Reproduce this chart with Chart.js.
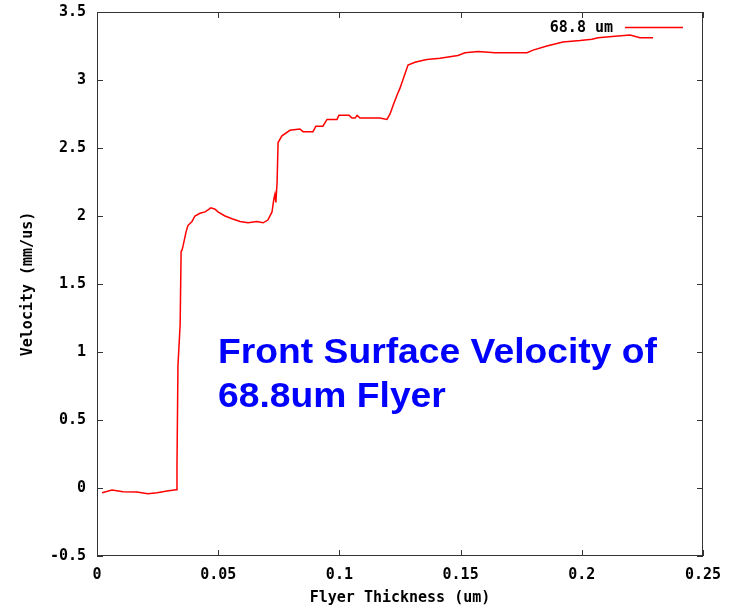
<!DOCTYPE html>
<html>
<head>
<meta charset="utf-8">
<script src="https://cdn.jsdelivr.net/npm/chart.js@4.4.1/dist/chart.umd.min.js"></script>
<style>
  html, body { margin: 0; padding: 0; background: #ffffff; }
  #wrap { width: 735px; height: 605px; }
</style>
</head>
<body>
<div id="wrap"><canvas id="c" width="735" height="605"></canvas></div>
<script>
// ---- data ----
const seriesLabel = "68.8 um";
const xValues = [0.0021, 0.0062, 0.0107, 0.0165, 0.0210, 0.0248, 0.0289, 0.0326, 0.0330, 0.0334, 0.0343, 0.0347,
  0.0351, 0.0355, 0.0367, 0.0375, 0.0392, 0.0404, 0.0425, 0.0446, 0.0470, 0.0487, 0.0499, 0.0528, 0.0557,
  0.0590, 0.0623, 0.0660, 0.0685, 0.0705, 0.0722, 0.0730, 0.0734, 0.0738, 0.0743, 0.0747, 0.0763, 0.0796,
  0.0837, 0.0850, 0.0891, 0.0903, 0.0932, 0.0949, 0.0990, 0.0998, 0.1040, 0.1052, 0.1065, 0.1073, 0.1085,
  0.1167, 0.1196, 0.1209, 0.1221, 0.1238, 0.1250, 0.1283, 0.1312, 0.1333, 0.1361, 0.1415, 0.1489, 0.1518,
  0.1572, 0.1642, 0.1774, 0.1799, 0.1856, 0.1922, 0.1993, 0.2042, 0.2067, 0.2125, 0.2199, 0.2240, 0.2294];
const yValues = [-0.035, -0.015, -0.028, -0.030, -0.042, -0.035, -0.022, -0.013, 0.17, 0.90, 1.20, 1.74,
  1.75, 1.78, 1.88, 1.93, 1.96, 2.00, 2.02, 2.03, 2.06, 2.05, 2.03, 2.00, 1.98,
  1.96, 1.95, 1.96, 1.95, 1.97, 2.03, 2.13, 2.16, 2.10, 2.25, 2.54, 2.59, 2.63,
  2.64, 2.62, 2.62, 2.66, 2.66, 2.71, 2.71, 2.74, 2.74, 2.72, 2.72, 2.74, 2.72,
  2.72, 2.71, 2.75, 2.81, 2.89, 2.94, 3.11, 3.13, 3.14, 3.15, 3.16, 3.18, 3.20,
  3.21, 3.20, 3.20, 3.22, 3.25, 3.28, 3.29, 3.30, 3.31, 3.32, 3.33, 3.31, 3.31];
const xTickLabels = ["0", "0.05", "0.1", "0.15", "0.2", "0.25"];
const yTickLabels = ["-0.5", "0", "0.5", "1", "1.5", "2", "2.5", "3", "3.5"];
const xTitle = "Flyer Thickness (um)";
const yTitle = "Velocity (mm/us)";
const noteLines = ["Front Surface Velocity of", "68.8um Flyer"];

const points = xValues.map((x, i) => ({ x: x, y: yValues[i] }));
const monoFont = { family: "'DejaVu Sans Mono', monospace", size: 15, weight: 'bold' };

const framePlugin = {
  id: 'frame',
  afterDatasetsDraw(chart) {
    const { ctx, chartArea: a, scales } = chart;
    ctx.save();
    ctx.strokeStyle = '#333333';
    ctx.lineWidth = 1;
    ctx.strokeRect(a.left + 0.5, a.top + 0.5, a.right - a.left - 1, a.bottom - a.top - 1);
    const tl = 6;
    ctx.beginPath();
    scales.x.ticks.forEach(t => {
      const px = Math.round(scales.x.getPixelForValue(t.value)) + 0.5;
      ctx.moveTo(px, a.bottom); ctx.lineTo(px, a.bottom - tl);
      ctx.moveTo(px, a.top); ctx.lineTo(px, a.top + tl);
    });
    scales.y.ticks.forEach(t => {
      const py = Math.round(scales.y.getPixelForValue(t.value)) + 0.5;
      ctx.moveTo(a.left, py); ctx.lineTo(a.left + tl, py);
      ctx.moveTo(a.right, py); ctx.lineTo(a.right - tl, py);
    });
    ctx.stroke();

    // legend (key) inside top right
    const ds = chart.data.datasets[0];
    ctx.font = "bold 15px 'DejaVu Sans Mono', monospace";
    ctx.fillStyle = '#000000';
    ctx.textAlign = 'right';
    ctx.textBaseline = 'middle';
    ctx.fillText(ds.label, a.right - 90, a.top + 16);
    ctx.strokeStyle = ds.borderColor;
    ctx.lineWidth = 1.5;
    ctx.beginPath();
    ctx.moveTo(a.right - 78, a.top + 15.5);
    ctx.lineTo(a.right - 20, a.top + 15.5);
    ctx.stroke();

    // annotation
    ctx.font = "bold 35px 'Liberation Sans', Arial, sans-serif";
    ctx.fillStyle = '#0000ff';
    ctx.textAlign = 'left';
    ctx.textBaseline = 'alphabetic';
    const w = ctx.measureText(noteLines[0]).width;
    const sx = 439 / w;
    ctx.translate(218, 0);
    ctx.scale(sx, 1);
    ctx.fillText(noteLines[0], 0, 363);
    ctx.fillText(noteLines[1], 0, 407);
    ctx.restore();
  }
};

new Chart(document.getElementById('c'), {
  type: 'line',
  data: {
    datasets: [{
      label: seriesLabel,
      data: points,
      borderColor: '#ff0000',
      backgroundColor: '#ff0000',
      borderWidth: 1.5,
      pointRadius: 0,
      tension: 0,
      fill: false
    }]
  },
  options: {
    responsive: false,
    animation: false,
    devicePixelRatio: 1,
    layout: { padding: { top: 7, right: 32, left: 0, bottom: 0 } },
    plugins: { legend: { display: false }, tooltip: { enabled: false } },
    scales: {
      x: {
        type: 'linear', min: 0, max: 0.25,
        afterFit(s) { s.height = 49; },
        grid: { display: false },
        border: { display: false },
        ticks: {
          stepSize: 0.05, padding: 2, color: '#000000', font: monoFont, maxRotation: 0,
          callback: (v, i) => xTickLabels[i]
        },
        title: { display: true, text: xTitle, color: '#000000', font: monoFont, padding: { top: 0, bottom: -2 } }
      },
      y: {
        type: 'linear', min: -0.5, max: 3.5,
        afterFit(s) { s.width = 97; },
        grid: { display: false },
        border: { display: false },
        ticks: {
          stepSize: 0.5, padding: 3, color: '#000000', font: monoFont,
          callback: (v, i) => yTickLabels[i]
        },
        title: { display: true, text: yTitle, color: '#000000', font: monoFont, padding: { top: 19, bottom: 0 } }
      }
    }
  },
  plugins: [framePlugin]
});
</script>
</body>
</html>
